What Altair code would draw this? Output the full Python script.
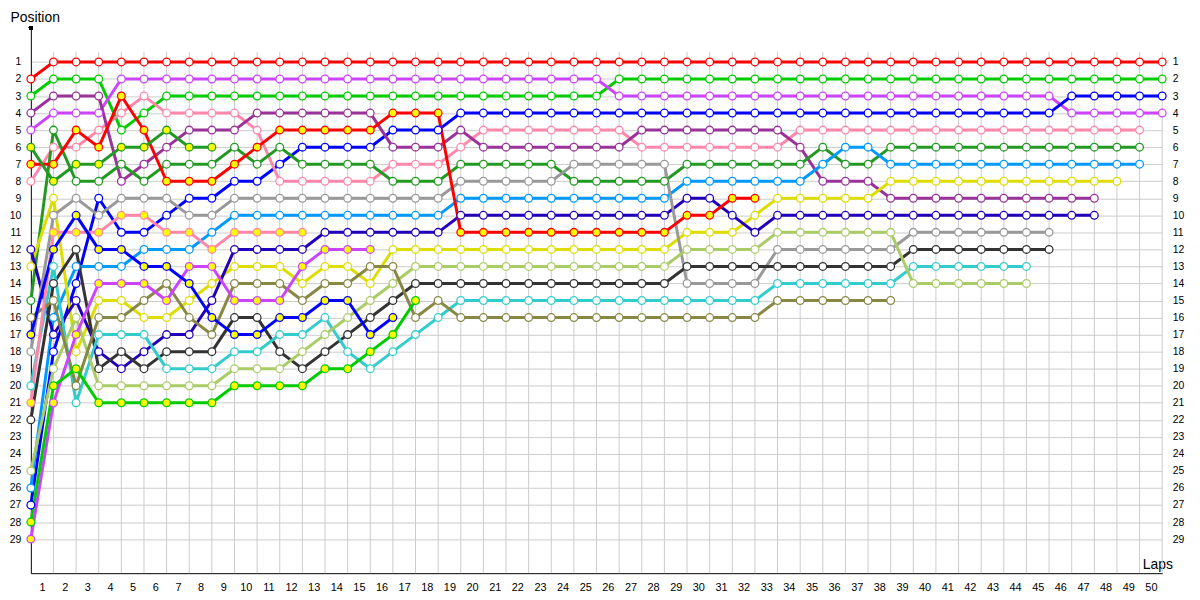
import altair as alt
import pandas as pd

lap_ticks = list(range(1, 51))
position_ticks = list(range(1, 30))

drivers = ["Red A", "Green A", "Violet A", "Blue A", "Pink A", "Purple", "Dark Green A",
           "Light Blue", "Yellow", "Navy", "Grey", "Black", "Cyan", "Light Olive", "Olive",
           "Red B", "Dark Green B", "Pink B", "Violet B", "Blue B", "Green B"]
colours = ["#ff0000", "#00cc00", "#cc44ff", "#0000ff", "#ff88aa", "#993399", "#229922",
           "#0099ff", "#dddd00", "#2200bb", "#999999", "#333333", "#33cccc", "#aacc66", "#888844",
           "#ff0000", "#229922", "#ff88aa", "#cc44ff", "#0000ff", "#00cc00"]
second_cars = ["Red B", "Dark Green B", "Pink B", "Violet B", "Blue B", "Green B"]

# positions by lap, starting at lap 0 (grid)
red_a = [2, 1, 1, 1, 1, 1, 1, 1, 1, 1, 1, 1, 1, 1, 1, 1, 1, 1, 1, 1, 1, 1, 1, 1, 1, 1,
         1, 1, 1, 1, 1, 1, 1, 1, 1, 1, 1, 1, 1, 1, 1, 1, 1, 1, 1, 1, 1, 1, 1, 1, 1]
green_a = [3, 2, 2, 2, 5, 4, 3, 3, 3, 3, 3, 3, 3, 3, 3, 3, 3, 3, 3, 3, 3, 3, 3, 3, 3, 3,
           2, 2, 2, 2, 2, 2, 2, 2, 2, 2, 2, 2, 2, 2, 2, 2, 2, 2, 2, 2, 2, 2, 2, 2, 2]
violet_a = [5, 4, 4, 4, 2, 2, 2, 2, 2, 2, 2, 2, 2, 2, 2, 2, 2, 2, 2, 2, 2, 2, 2, 2, 2, 2,
            3, 3, 3, 3, 3, 3, 3, 3, 3, 3, 3, 3, 3, 3, 3, 3, 3, 3, 3, 3, 4, 4, 4, 4, 4]
blue_a = [27, 18, 14, 9, 11, 11, 10, 9, 9, 8, 8, 7, 6, 6, 6, 6, 5, 5, 5, 4, 4, 4, 4, 4, 4, 4,
          4, 4, 4, 4, 4, 4, 4, 4, 4, 4, 4, 4, 4, 4, 4, 4, 4, 4, 4, 4, 3, 3, 3, 3, 3]
pink_a = [8, 6, 6, 5, 4, 3, 4, 4, 4, 4, 5, 8, 8, 8, 8, 8, 7, 7, 7, 6, 5, 5, 5, 5, 5, 5,
          5, 6, 6, 6, 6, 6, 6, 6, 5, 5, 5, 5, 5, 5, 5, 5, 5, 5, 5, 5, 5, 5, 5, 5]
purple = [4, 3, 3, 3, 8, 7, 6, 5, 5, 5, 4, 4, 4, 4, 4, 4, 6, 6, 6, 5, 6, 6, 6, 6, 6, 6,
          6, 5, 5, 5, 5, 5, 5, 5, 6, 8, 8, 8, 9, 9, 9, 9, 9, 9, 9, 9, 9, 9]
dark_green_a = [15, 5, 8, 8, 7, 8, 7, 7, 7, 6, 7, 6, 7, 7, 7, 7, 8, 8, 8, 7, 7, 7, 7, 7, 8, 8,
                8, 8, 8, 7, 7, 7, 7, 7, 7, 6, 7, 7, 6, 6, 6, 6, 6, 6, 6, 6, 6, 6, 6, 6]
light_blue = [26, 16, 13, 13, 13, 12, 12, 12, 11, 10, 10, 10, 10, 10, 10, 10, 10, 10, 10, 9, 9, 9, 9, 9, 9, 9,
              9, 9, 9, 8, 8, 8, 8, 8, 8, 7, 6, 6, 7, 7, 7, 7, 7, 7, 7, 7, 7, 7, 7, 7]
yellow = [13, 9, 18, 15, 15, 16, 16, 15, 14, 13, 13, 13, 14, 13, 13, 14, 12, 12, 12, 12, 12, 12, 12, 12, 12, 12,
          12, 12, 12, 11, 11, 11, 10, 9, 9, 9, 9, 9, 8, 8, 8, 8, 8, 8, 8, 8, 8, 8, 8]
navy = [12, 17, 15, 18, 19, 18, 17, 17, 15, 12, 12, 12, 12, 11, 11, 11, 11, 11, 11, 10, 10, 10, 10, 10, 10, 10,
        10, 10, 10, 9, 9, 10, 11, 10, 10, 10, 10, 10, 10, 10, 10, 10, 10, 10, 10, 10, 10, 10]
grey = [18, 10, 9, 10, 9, 9, 9, 10, 10, 9, 9, 9, 9, 9, 9, 9, 9, 9, 9, 8, 8, 8, 8, 8, 7, 7,
        7, 7, 7, 14, 14, 14, 14, 12, 12, 12, 12, 12, 12, 11, 11, 11, 11, 11, 11, 11]
black = [22, 14, 12, 19, 18, 19, 18, 18, 18, 16, 16, 18, 19, 18, 17, 16, 15, 14, 14, 14, 14, 14, 14, 14, 14, 14,
         14, 14, 14, 13, 13, 13, 13, 13, 13, 13, 13, 13, 13, 12, 12, 12, 12, 12, 12, 12]
cyan = [20, 13, 21, 17, 17, 17, 19, 19, 19, 18, 18, 17, 17, 16, 18, 19, 18, 17, 16, 15, 15, 15, 15, 15, 15, 15,
        15, 15, 15, 15, 15, 15, 15, 14, 14, 14, 14, 14, 14, 13, 13, 13, 13, 13, 13]
light_olive = [25, 19, 16, 20, 20, 20, 20, 20, 20, 19, 19, 19, 18, 17, 16, 15, 14, 13, 13, 13, 13, 13, 13, 13, 13, 13,
               13, 13, 13, 12, 12, 12, 12, 11, 11, 11, 11, 11, 11, 14, 14, 14, 14, 14, 14]
olive = [16, 15, 20, 16, 16, 15, 14, 16, 17, 14, 14, 14, 15, 14, 14, 13, 13, 16, 15, 16, 16, 16, 16, 16, 16, 16,
         16, 16, 16, 16, 16, 16, 16, 15, 15, 15, 15, 15, 15]
red_b = [7, 7, 5, 6, 3, 5, 8, 8, 8, 7, 6, 5, 5, 5, 5, 5, 4, 4, 4, 11, 11, 11, 11, 11, 11, 11,
         11, 11, 11, 10, 10, 9, 9]
dark_green_b = [6, 8, 7, 7, 6, 6, 5, 6, 6]
pink_b = [21, 11, 11, 11, 10, 10, 11, 11, 12, 11, 11, 11, 11]
violet_b = [29, 21, 17, 14, 14, 14, 15, 13, 13, 15, 15, 15, 13, 12, 12, 12]
blue_b = [17, 12, 10, 12, 12, 13, 13, 14, 16, 17, 17, 16, 16, 15, 15, 17, 16]
green_b = [28, 20, 19, 21, 21, 21, 21, 21, 21, 20, 20, 20, 20, 19, 19, 18, 17, 15]

series = {
    "Red A": red_a, "Green A": green_a, "Violet A": violet_a, "Blue A": blue_a,
    "Pink A": pink_a, "Purple": purple, "Dark Green A": dark_green_a,
    "Light Blue": light_blue, "Yellow": yellow, "Navy": navy, "Grey": grey,
    "Black": black, "Cyan": cyan, "Light Olive": light_olive, "Olive": olive,
    "Red B": red_b, "Dark Green B": dark_green_b, "Pink B": pink_b,
    "Violet B": violet_b, "Blue B": blue_b, "Green B": green_b,
}

rows = []
for name in drivers:
    for lap, pos in enumerate(series[name]):
        rows.append({"driver": name, "lap": lap, "pos": pos,
                     "car": "B" if name in second_cars else "A"})
df = pd.DataFrame(rows)
grid_df = pd.DataFrame({"lap": lap_ticks})

x_scale = alt.Scale(domain=[0, 50], nice=False, zero=False)
y_scale = alt.Scale(domain=[-1, 31], reverse=True, nice=False, zero=False)
colour_scale = alt.Scale(domain=drivers, range=colours)

x_axis = alt.Axis(values=lap_ticks, grid=False, ticks=False, labelOffset=-11.4,
                  labelFlush=False, labelOverlap=False,
                  labelPadding=8, labelFontSize=11, domainColor="#000000", domainWidth=1,
                  title="Laps", titleX=1119, titleY=-5, titleAlign="left",
                  titleBaseline="alphabetic", titleFontSize=14, titleFontWeight="normal")
y_axis_left = alt.Axis(values=position_ticks, grid=True, gridColor="#cccccc", gridWidth=1,
                       ticks=False, labelPadding=10, labelFontSize=10.5,
                       labelFlush=False, labelOverlap=False,
                       domainColor="#000000", domainWidth=1,
                       title="Position", titleAngle=0, titleAlign="left",
                       titleBaseline="alphabetic", titleX=-21, titleY=-6,
                       titleFontSize=14, titleFontWeight="normal")
y_axis_right = alt.Axis(values=position_ticks, grid=False, ticks=False, domain=False,
                        labelFlush=False, labelOverlap=False,
                        labelPadding=10, labelFontSize=10.5, labelAlign="left",
                        title=None, orient="right")

grid = alt.Chart(grid_df).mark_rule(color="#cccccc", strokeWidth=1).encode(
    x=alt.X("lap:Q", scale=x_scale, axis=x_axis),
    y=alt.YDatum(0.4, scale=y_scale, axis=None),
    y2=alt.Y2Datum(31),
)

lines = alt.Chart(df).mark_line(strokeWidth=3).encode(
    x=alt.X("lap:Q", scale=x_scale, axis=x_axis),
    y=alt.Y("pos:Q", scale=y_scale, axis=y_axis_left),
    color=alt.Color("driver:N", scale=colour_scale, legend=None),
    detail="driver:N",
)

points = alt.Chart(df).mark_point(shape="circle", filled=True, size=60, strokeWidth=1.3,
                                  opacity=1, fillOpacity=1).encode(
    x=alt.X("lap:Q", scale=x_scale, axis=x_axis),
    y=alt.Y("pos:Q", scale=y_scale, axis=y_axis_right),
    stroke=alt.Stroke("driver:N", scale=colour_scale, legend=None),
    fill=alt.Fill("car:N", scale=alt.Scale(domain=["A", "B"], range=["#ffffff", "#ffff00"]),
                  legend=None),
)

axis_tip = alt.Chart(grid_df).mark_point(shape="circle", filled=True, size=14, opacity=1,
                                         color="#000000").encode(
    x=alt.XDatum(0, scale=x_scale, axis=x_axis),
    y=alt.YDatum(-1, scale=y_scale, axis=None),
)

chart = alt.layer(grid, lines, points, axis_tip).resolve_axis(y="independent").properties(
    width=1139, height=549,
    autosize=alt.AutoSizeParams(type="none"),
    padding={"left": 23, "top": 18, "right": 30, "bottom": 25},
).configure_view(stroke=None).configure_axis(
    labelFont="Liberation Sans", titleFont="Liberation Sans",
    labelColor="#000000", titleColor="#000000"
)

chart.save("out.html", embed_options={"renderer": "svg", "actions": False})
